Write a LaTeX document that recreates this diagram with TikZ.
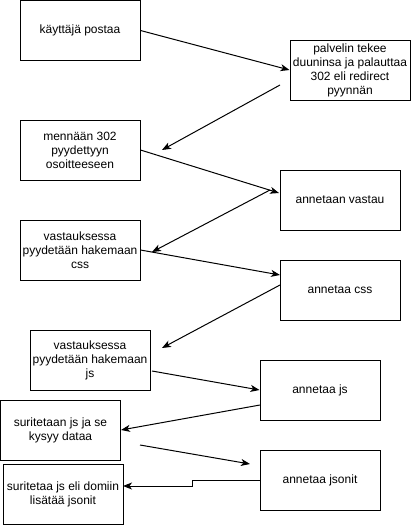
\documentclass[tikz,border=0pt]{standalone}
\usepackage{fontspec}
\setmainfont{Liberation Sans}
\usepackage{tikz}
\usetikzlibrary{arrows.meta}

\begin{document}
\begin{tikzpicture}[x=1pt, y=-1pt, line width=1pt,
  box/.style={draw, minimum width=120, minimum height=60, inner sep=0pt, align=center,
    font=\fontsize{12}{14}\selectfont},
  >={Stealth[length=9pt, width=7pt, inset=2.5pt]}]
  \useasboundingbox (0,0) rectangle (411,525);

  \node[box] (kayttaja) at (80,30.5) {käyttäjä postaa};
  \node[box] (palvelin) at (350,70) {palvelin tekee\\duuninsa ja palauttaa\\302 eli redirect\\pyynnän};
  \node[box] (mennaan) at (80,150) {mennään 302\\pyydettyyn\\osoitteeseen};
  \node[box] (vastau) at (340,200) {annetaan vastau};
  \node[box] (pyydcss) at (80,250) {vastauksessa\\pyydetään hakemaan\\css};
  \node[box] (css) at (340,290) {annetaa css};
  \node[box] (pyydjs) at (90,360) {vastauksessa\\pyydetään hakemaan\\js};
  \node[box] (js) at (320,390) {annetaa js};
  \node[box] (kysyy) at (60.5,430) {suritetaan js ja se\\kysyy dataa};
  \node[box] (domiin) at (63,494) {suritetaa js eli domiin\\lisätää jsonit};
  \node[box] (jsonit) at (320,480) {annetaa jsonit};

  % free ends
  \coordinate (a2) at (280,85);   \coordinate (b2) at (162,150);
  \coordinate (b3) at (279,193);
  \coordinate (a4) at (270,190);  \coordinate (b4) at (152,252);
  \coordinate (b5) at (280,275);
  \coordinate (a6) at (280,285);  \coordinate (b6) at (162,348);
  \coordinate (a7) at (152,371);
  \coordinate (a8) at (260,405);
  \coordinate (a9) at (140,445);  \coordinate (b9) at (250,464);
  \coordinate (k1) at (192,480);  \coordinate (k2) at (192,486);
  \coordinate (b10) at (123,486);

  \path[->]
  (kayttaja.east) edge (palvelin.west)
  (a2) edge (b2)
  (mennaan.east) edge (b3)
  (a4) edge (b4)
  (pyydcss.east) edge (b5)
  (a6) edge (b6)
  (a7) edge (js.west)
  (a8) edge (kysyy.east)
  (a9) edge (b9)
  ;
  \draw[->] (jsonit.west) -- (k1) -- (k2) -- (b10);
\end{tikzpicture}
\end{document}
